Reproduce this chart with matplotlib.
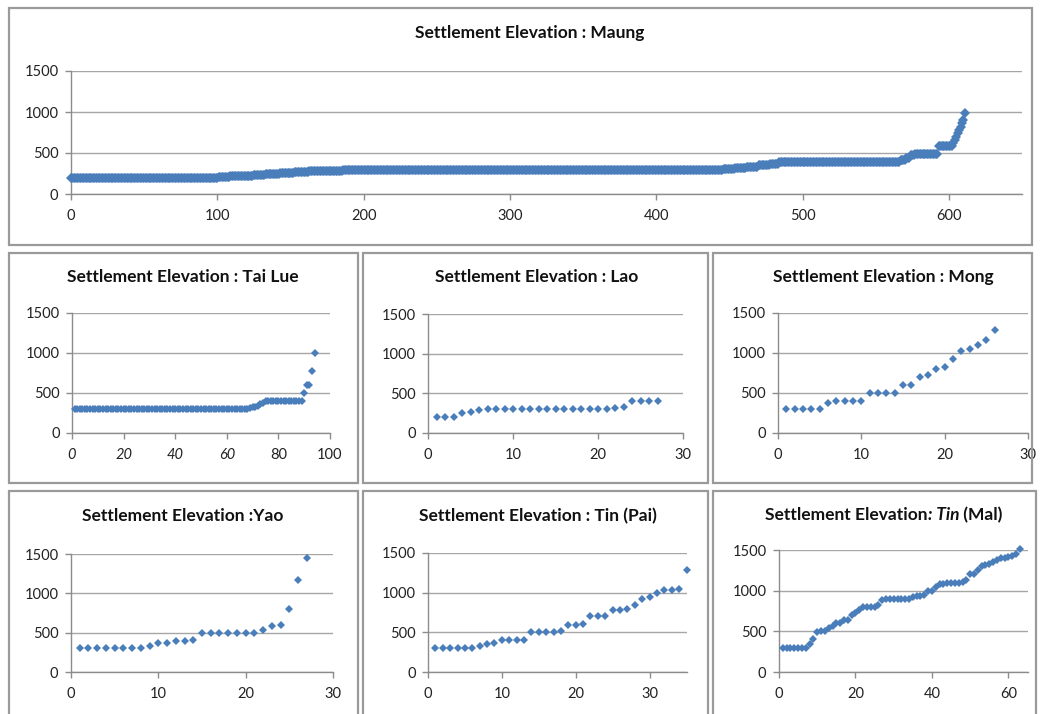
import numpy as np
import matplotlib
matplotlib.use("Agg")
import matplotlib.pyplot as plt
from matplotlib.patches import Rectangle

plt.rcParams['font.family'] = ["Lato", "DejaVu Sans"]

W, H = 1041, 714
BLUE = "#4A7EBB"
GRID = "#A6A6A6"
AXIS = "#8C8C8C"
BOX = "#9A9A9A"
TITLE_FS = 12.5
TICK_FS = 10.5

# ---------------- data ----------------
# Maung: sorted elevations, stored as plateau levels and how many settlements sit on each
maung_levels = [200, 205, 215, 225, 235, 245, 255, 265, 275, 285, 290,
                300, 315, 330, 350, 370, 385, 395,
                410, 440, 470, 485, 490, 590, 580,
                620, 660, 700, 740, 780, 820, 860, 900, 990]
maung_counts = [101, 8, 8, 8, 8, 10, 10, 10, 10, 13, 260,
                8, 8, 8, 8, 6, 5, 78,
                4, 3, 3, 3, 13, 5, 5,
                1, 1, 1, 1, 1, 1, 1, 1, 1]

tai_lue_levels = [300, 305, 310, 320, 330, 340, 360, 380, 395, 400, 500, 600, 770, 1000]
tai_lue_counts = [67, 1, 1, 1, 1, 1, 1, 1, 1, 14, 1, 2, 1, 1]

lao = [200, 200, 200, 250, 270, 290, 300, 300, 300, 300, 300, 300, 300, 300,
       300, 300, 300, 300, 300, 300, 300, 310, 330, 400, 400, 400, 400]

mong = [300, 300, 300, 300, 300, 370, 400, 400, 400, 400, 500, 500, 500, 500,
        600, 600, 700, 720, 800, 820, 930, 1020, 1050, 1100, 1160, 1290]

yao = [300, 300, 300, 300, 300, 300, 300, 300, 330, 370, 375, 400, 400, 410,
       490, 490, 500, 500, 500, 500, 500, 540, 580, 600, 800, 1170, 1450]

tin_pai = [300, 300, 300, 300, 300, 300, 330, 350, 360, 400, 400, 400, 400,
           500, 500, 500, 500, 520, 590, 590, 600, 700, 700, 710, 780, 780,
           800, 840, 920, 940, 1000, 1030, 1030, 1040, 1280]

tin_mal = [300, 300, 300, 300, 300, 300, 300, 340, 400, 490, 500, 500, 540,
           570, 600, 600, 640, 640, 700, 720, 760, 800, 800, 800, 800, 820,
           890, 900, 900, 900, 900, 900, 900, 900, 920, 930, 940, 950, 1000,
           1000, 1050, 1080, 1080, 1090, 1100, 1100, 1100, 1110, 1130, 1200,
           1210, 1260, 1300, 1310, 1330, 1350, 1380, 1400, 1400, 1420, 1430,
           1450, 1510]

y_ticks = [0, 500, 1000, 1500]

maung = np.repeat(maung_levels, maung_counts)
tai_lue = np.repeat(tai_lue_levels, tai_lue_counts)

panels = [
    dict(title=[("Settlement Elevation : Maung", "normal")],
         box=(8.5, 8, 1032, 245), ax=(71, 71, 1022, 194), xlim=(0, 650),
         xticks=[0, 100, 200, 300, 400, 500, 600],
         x=np.arange(0, len(maung)), y=maung, tc=(530, 33), ms=5.0),
    dict(title=[("Settlement Elevation : Tai Lue", "normal")],
         box=(8.5, 253, 358.3, 483), ax=(72, 313, 330, 433), xlim=(0, 100),
         xticks=[0, 20, 40, 60, 80, 100],
         x=np.arange(1, len(tai_lue) + 1), y=tai_lue, tc=(183, 277), ms=3.9,
         italic_ticks=[0, 20, 40, 60]),
    dict(title=[("Settlement Elevation : Lao", "normal")],
         box=(363.3, 253, 708.3, 483), ax=(428, 314, 683, 433), xlim=(0, 30),
         xticks=[0, 10, 20, 30],
         x=np.arange(1, len(lao) + 1), y=lao, tc=(537, 277.5), ms=3.8),
    dict(title=[("Settlement Elevation : Mong", "normal")],
         box=(713.3, 253, 1032, 483), ax=(778, 313, 1028, 433), xlim=(0, 30),
         xticks=[0, 10, 20, 30],
         x=np.arange(1, len(mong) + 1), y=mong, tc=(883, 277), ms=3.8),
    dict(title=[("Settlement Elevation :Yao", "normal")],
         box=(8.5, 491, 358.3, 720), ax=(71, 554, 333, 672), xlim=(0, 30),
         xticks=[0, 10, 20, 30],
         x=np.arange(1, len(yao) + 1), y=yao, tc=(183, 516), ms=3.8),
    dict(title=[("Settlement Elevation : Tin (Pai)", "normal")],
         box=(363.3, 491, 708.3, 720), ax=(428, 553, 686.5, 672), xlim=(0, 35),
         xticks=[0, 10, 20, 30],
         x=np.arange(1, len(tin_pai) + 1), y=tin_pai, tc=(537.5, 516), ms=3.8),
    dict(title=[("Settlement Elevation", "normal"), (": Tin", "italic"), (" (Mal)", "normal")],
         box=(713.3, 491, 1036, 720), ax=(779, 550, 1027.5, 672), xlim=(0, 65),
         xticks=[0, 20, 40, 60],
         x=np.arange(1, len(tin_mal) + 1), y=tin_mal, tc=(884, 515), ms=3.8),
]

fig = plt.figure(figsize=(W / 100, H / 100), dpi=100)
fig.patch.set_facecolor("white")


def fx(px):
    return px / W


def fy(py):
    return 1 - py / H


for p in panels:
    bl, bt, br, bb = p["box"]
    fig.patches.append(Rectangle((fx(bl), fy(bb)), fx(br) - fx(bl), fy(bt) - fy(bb),
                                 transform=fig.transFigure, fill=False,
                                 edgecolor=BOX, linewidth=1.6, zorder=0))
    al, at, ar, ab = p["ax"]
    ax = fig.add_axes([fx(al), fy(ab), fx(ar) - fx(al), fy(at) - fy(ab)])
    ax.set_facecolor("none")
    ax.plot(p["x"], p["y"], linestyle="none", marker="D", markersize=p["ms"],
            markeredgewidth=0, color=BLUE, clip_on=False, zorder=3)
    ax.set_xlim(*p["xlim"])
    ax.set_ylim(0, 1500)
    ax.set_xticks(p["xticks"])
    ax.set_yticks(y_ticks)
    ax.yaxis.grid(True, color=GRID, linewidth=1.0)
    ax.set_axisbelow(True)
    for s in ["top", "right"]:
        ax.spines[s].set_visible(False)
    for s in ["left", "bottom"]:
        ax.spines[s].set_color(AXIS)
        ax.spines[s].set_linewidth(1.0)
    ax.tick_params(axis="x", direction="out", length=4, width=1, color=AXIS,
                   pad=7, labelsize=TICK_FS, labelcolor="#222222")
    ax.tick_params(axis="y", direction="out", length=4, width=1, color=AXIS,
                   pad=5, labelsize=TICK_FS, labelcolor="#222222")
    if "italic_ticks" in p:
        for lab, v in zip(ax.get_xticklabels(), p["xticks"]):
            if v in p["italic_ticks"]:
                lab.set_fontstyle("italic")

    pieces = p["title"]
    cx, cy = p["tc"]
    if len(pieces) == 1:
        fig.text(fx(cx), fy(cy), pieces[0][0], ha="center", va="center",
                 fontsize=TITLE_FS, fontweight="bold", color="#111111")
    else:
        renderer = fig.canvas.get_renderer()
        tmp = [fig.text(0, 0, t, fontsize=TITLE_FS, fontweight="bold", fontstyle=st)
               for t, st in pieces]
        widths = [t.get_window_extent(renderer).width for t in tmp]
        for t in tmp:
            t.remove()
        x0 = cx - sum(widths) / 2
        for (t, st), w in zip(pieces, widths):
            fig.text(fx(x0), fy(cy), t, ha="left", va="center", fontsize=TITLE_FS,
                     fontweight="bold", fontstyle=st, color="#111111")
            x0 += w

fig.savefig("out.png", dpi=100)
